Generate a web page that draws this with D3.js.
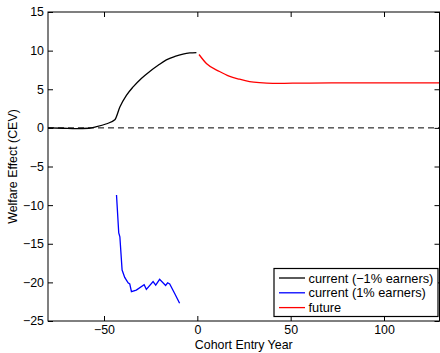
<!DOCTYPE html>
<html>
<head>
<meta charset="utf-8">
<script src="https://cdn.jsdelivr.net/npm/d3@7"></script>
<style>
  body { margin: 0; background: #fff; }
  text { font-family: "Liberation Sans", Arial, Helvetica, sans-serif; }
</style>
</head>
<body>
<svg id="chart" width="440" height="353"></svg>
<script>
// current cohorts, -1% earners
const blackX = [-80, -72, -65, -58, -54, -49, -44.2, -41.5, -38, -34.4, -30, -25.5, -21, -16.6, -12, -7.7, -4, -0.5];
const blackY = [0, -0.05, -0.1, -0.05, 0.15, 0.5, 1.05, 2.7, 4.2, 5.3, 6.4, 7.3, 8.1, 8.8, 9.25, 9.55, 9.7, 9.75];

// current cohorts, 1% earners
const blueX = [-43.3, -42.1, -41.5, -40.3, -38.9, -37.1, -36.2, -35.3, -32.7, -28.5, -27.3, -23.7, -22.3, -20.2, -17, -15.9, -14.8, -12, -9.5];
const blueY = [-8.7, -13.6, -14.1, -18.4, -19.35, -20.05, -20.2, -21.2, -21.0, -20.3, -20.9, -19.9, -20.35, -19.6, -20.4, -20.05, -20.2, -21.5, -22.7];

// future cohorts
const redX = [0.9, 5, 11.9, 17, 22.6, 28, 33.3, 40.4, 51, 60, 80, 100, 130];
const redY = [9.5, 8.3, 7.3, 6.7, 6.3, 6.0, 5.85, 5.76, 5.78, 5.8, 5.82, 5.82, 5.82];

const xTicks = [-50, 0, 50, 100];
const yTicks = [15, 10, 5, 0, -5, -10, -15, -20, -25];

const legendLabels = ["current (\u22121% earners)", "current (1% earners)", "future"];
const colors = ["#000000", "#0000ff", "#ff0000"];

const svg = d3.select("#chart");
const mLeft = 48, mRight = 439.5, mTop = 12, mBottom = 321;
const fs = 12.4;

const x = d3.scaleLinear().domain([-80, 130]).range([mLeft, mRight + 0.5]);
const y = d3.scaleLinear().domain([-25, 15]).range([mBottom, mTop]);

const line = d3.line().x(d => x(d[0])).y(d => y(d[1]));

// zero reference line
svg.append("line")
  .attr("x1", x(-80)).attr("x2", x(130))
  .attr("y1", y(0)).attr("y2", y(0))
  .attr("stroke", "#000").attr("stroke-width", 1)
  .attr("stroke-dasharray", "6,4");

const series = [
  d3.zip(blackX, blackY),
  d3.zip(blueX, blueY),
  d3.zip(redX, redY)
];

series.forEach((s, i) => {
  svg.append("path")
    .datum(s)
    .attr("d", line.curve(i == 1 ? d3.curveLinear : d3.curveMonotoneX))
    .attr("fill", "none")
    .attr("stroke", colors[i])
    .attr("stroke-width", 1.3);
});

// axes, MATLAB style: ticks inside, box around
const ax = svg.append("g");
ax.append("g")
  .attr("transform", `translate(0,${mBottom})`)
  .call(d3.axisBottom(x).tickValues(xTicks).tickSizeInner(-5).tickSizeOuter(0).tickPadding(4.5).tickFormat(d => d < 0 ? "\u2212" + (-d) : d));
ax.append("g")
  .attr("transform", `translate(0,${mTop})`)
  .call(d3.axisTop(x).tickValues(xTicks).tickSizeInner(-5).tickSizeOuter(0).tickFormat(""));
ax.append("g")
  .attr("transform", `translate(${mLeft},0)`)
  .call(d3.axisLeft(y).tickValues(yTicks).tickSizeInner(-5).tickSizeOuter(0).tickPadding(4).tickFormat(d => d < 0 ? "\u2212" + (-d) : d));
ax.append("g")
  .attr("transform", `translate(${mRight},0)`)
  .call(d3.axisRight(y).tickValues(yTicks).tickSizeInner(-5).tickSizeOuter(0).tickFormat(""));

ax.selectAll(".domain").remove();
ax.selectAll(".tick line").attr("stroke", "#000");
ax.selectAll(".tick text").attr("font-size", fs).attr("fill", "#000");

svg.append("rect")
  .attr("x", mLeft).attr("y", mTop)
  .attr("width", mRight - mLeft).attr("height", mBottom - mTop)
  .attr("fill", "none").attr("stroke", "#000").attr("stroke-width", 1);

// axis titles
svg.append("text")
  .attr("x", (mLeft + mRight) / 2).attr("y", 349)
  .attr("text-anchor", "middle").attr("font-size", fs)
  .text("Cohort Entry Year");
svg.append("text")
  .attr("transform", `translate(16.5,${(mTop + mBottom) / 2}) rotate(-90)`)
  .attr("text-anchor", "middle").attr("font-size", fs)
  .text("Welfare Effect (CEV)");

// legend
const lg = svg.append("g");
lg.append("rect")
  .attr("x", 274).attr("y", 268.5)
  .attr("width", 164).attr("height", 48)
  .attr("fill", "#fff").attr("stroke", "#000").attr("stroke-width", 1.2);
legendLabels.forEach((lab, i) => {
  const yy = 278 + i * 14.8;
  lg.append("line")
    .attr("x1", 279).attr("x2", 305)
    .attr("y1", yy).attr("y2", yy)
    .attr("stroke", colors[i]).attr("stroke-width", 1.3);
  lg.append("text")
    .attr("x", 308.5).attr("y", yy + 4.5)
    .attr("font-size", 12.8)
    .text(lab);
});
</script>
</body>
</html>
